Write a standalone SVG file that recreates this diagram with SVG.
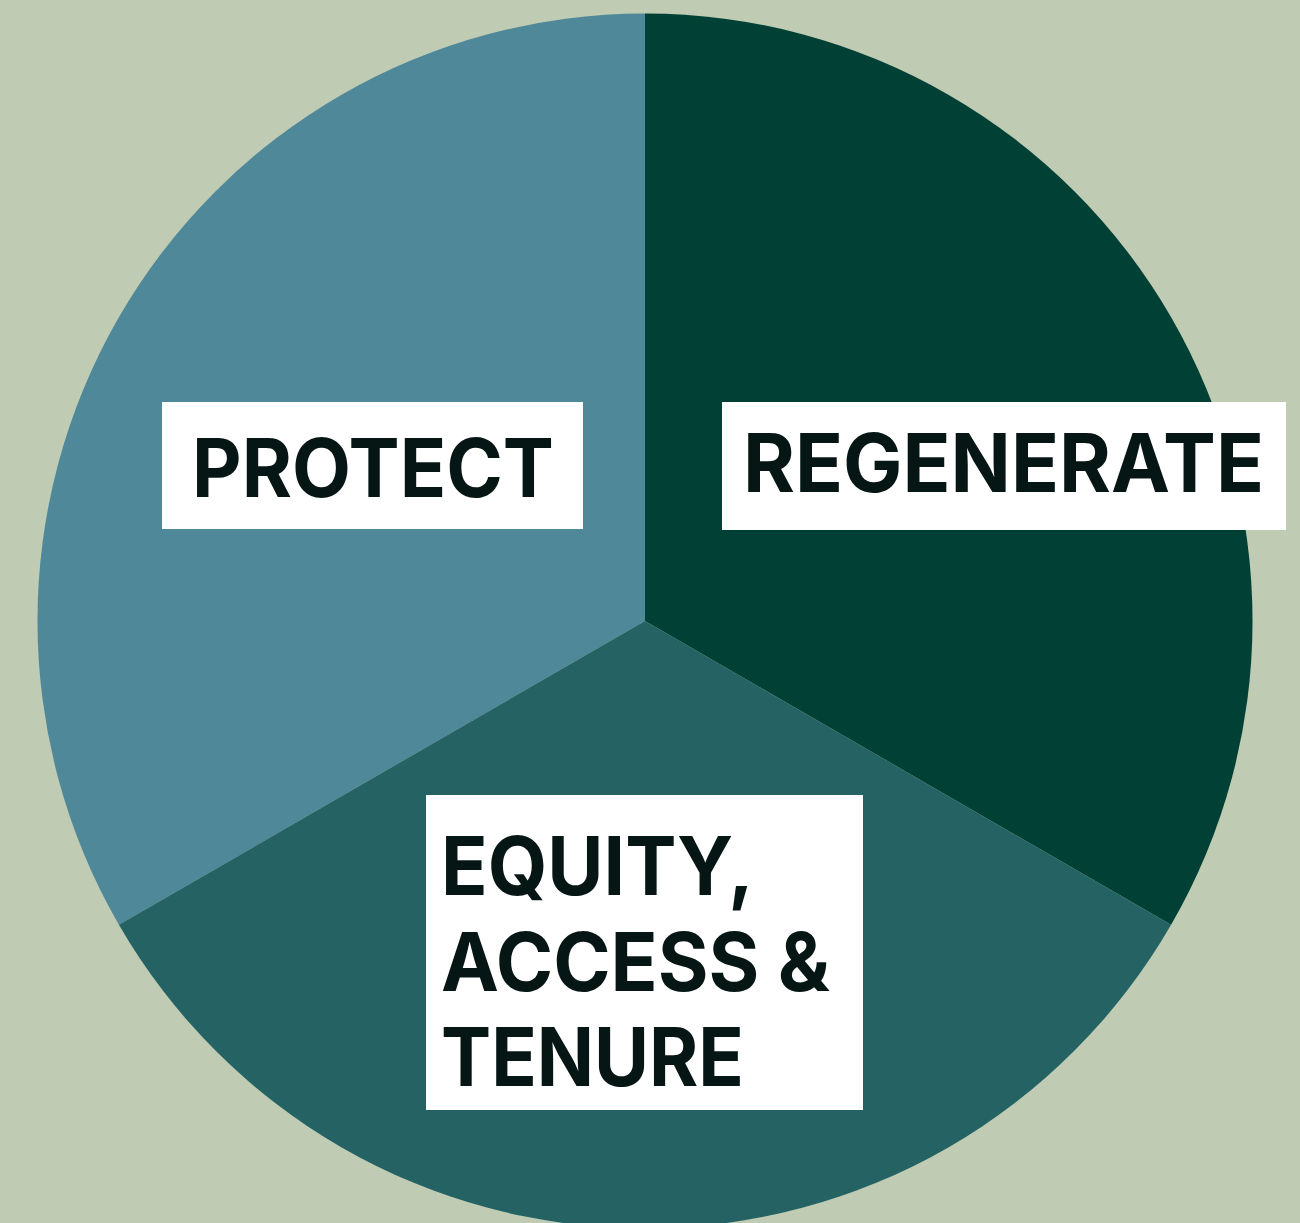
<svg xmlns="http://www.w3.org/2000/svg" width="1300" height="1223" viewBox="0 0 1300 1223">
<style>
.lbl{font-family:Inter,"Liberation Sans",Arial,sans-serif;font-weight:700;font-size:81px;fill:#061614}
.box{fill:#ffffff}
</style>
<rect x="0" y="0" width="1300" height="1223" fill="#BFCBB3"/>
<g id="sectors">
<path id="protect-sector" d="M645,621 L645,13.5 A607.5,607.5 0 0 0 118.9,924.8 Z" fill="#4F8899"/>
<path id="regenerate-sector" d="M645,621 L645,13.5 A607.5,607.5 0 0 1 1171.1,924.8 Z" fill="#004035"/>
<path id="equity-sector" d="M645,621 L1171.1,924.8 A607.5,607.5 0 0 1 118.9,924.8 Z" fill="#256264"/>
</g>
<g id="protect">
<rect class="box" x="162" y="402" width="421" height="127"/>
<text class="lbl" x="192" y="497" textLength="362" lengthAdjust="spacingAndGlyphs">PROTECT</text>
</g>
<g id="regenerate">
<rect class="box" x="722" y="402" width="564" height="128"/>
<text class="lbl" x="743" y="492" textLength="521" lengthAdjust="spacingAndGlyphs">REGENERATE</text>
</g>
<g id="equity">
<rect class="box" x="426" y="795" width="437" height="315"/>
<text class="lbl" x="441" y="895" textLength="313" lengthAdjust="spacingAndGlyphs">EQUITY,</text>
<text class="lbl" x="441" y="991" textLength="389" lengthAdjust="spacingAndGlyphs">ACCESS &amp;</text>
<text class="lbl" x="441" y="1086" textLength="303" lengthAdjust="spacingAndGlyphs">TENURE</text>
</g>
</svg>
